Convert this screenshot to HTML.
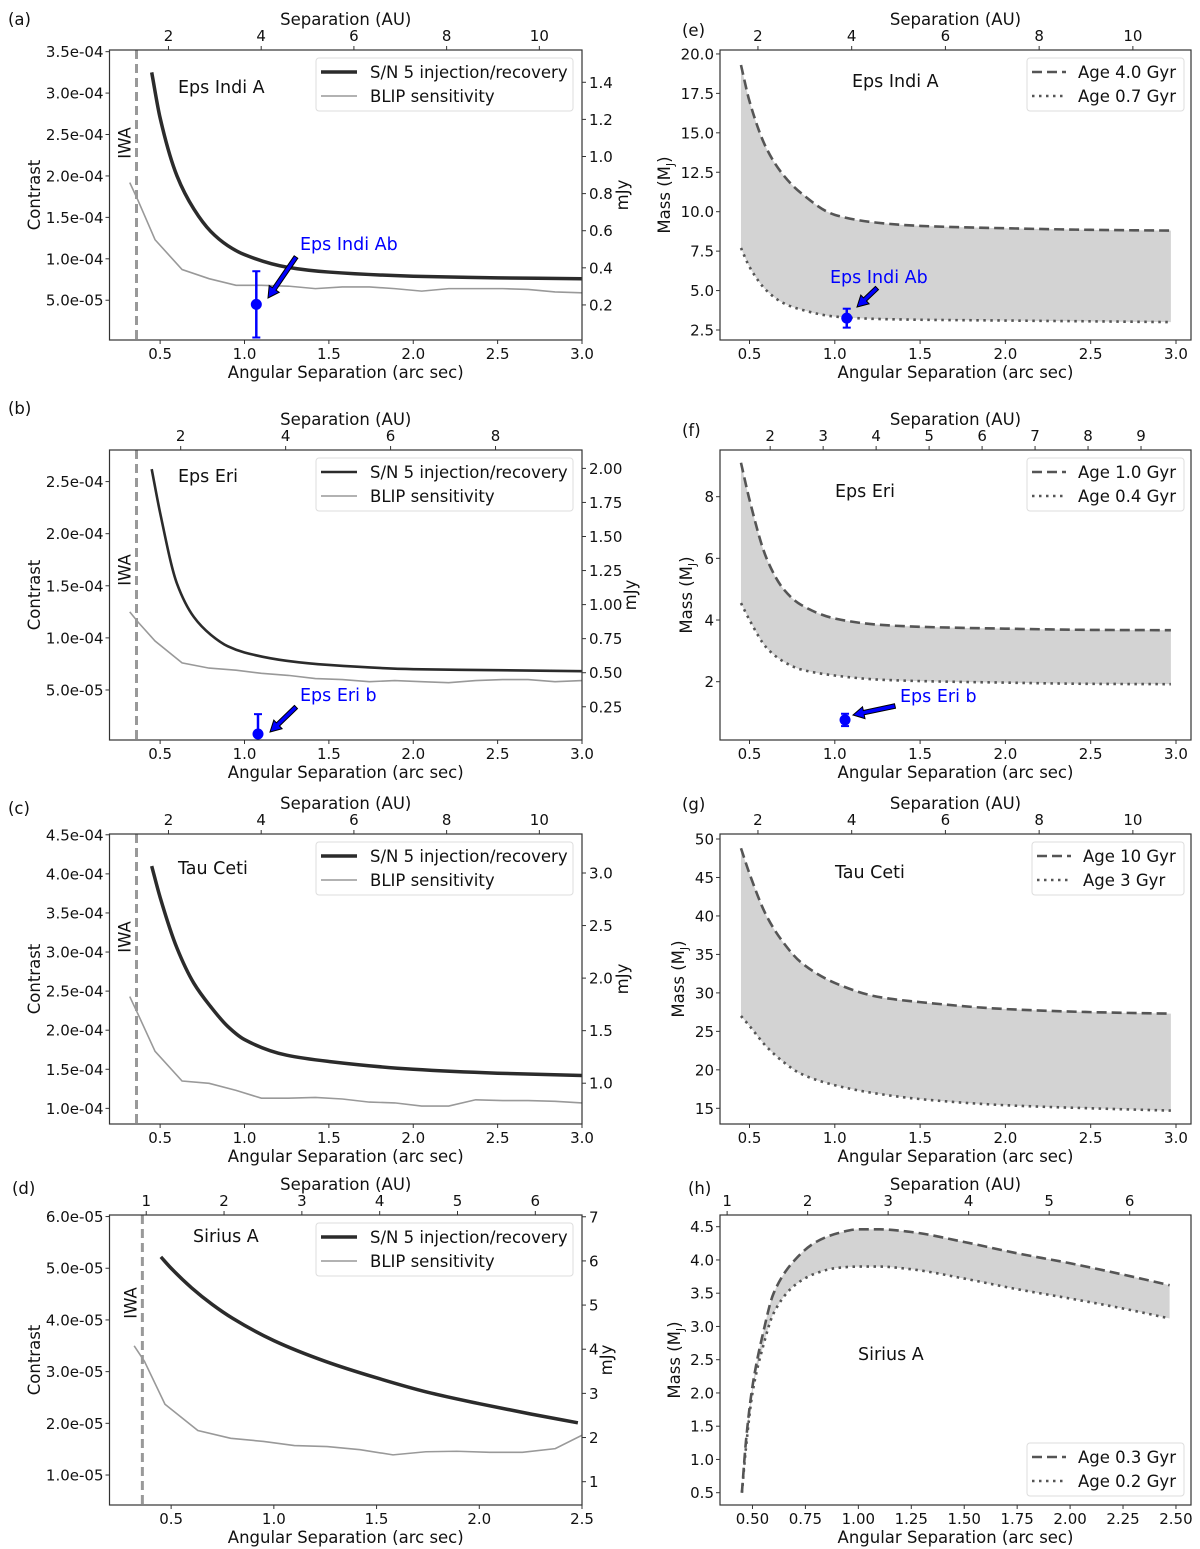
<!DOCTYPE html>
<html><head><meta charset="utf-8">
<style>
html,body{margin:0;padding:0;background:#fff;}
svg{display:block;font-family:"DejaVu Sans","Liberation Sans",sans-serif;}
</style></head>
<body>
<svg id="fig" width="1200" height="1549" viewBox="0 0 1200 1549" xmlns="http://www.w3.org/2000/svg"></svg>
<script>
// ---------- DATA ----------
const snX_a=[0.45,0.5,0.6,0.7,0.8,0.9,1.0,1.25,1.5,2.0,2.5,3.0];
const snY_a=[3.25e-4,2.7e-4,2.0e-4,1.6e-4,1.33e-4,1.16e-4,1.05e-4,9.0e-5,8.4e-5,7.9e-5,7.7e-5,7.6e-5];
const blipX=[0.32,0.37,0.47,0.63,0.79,0.95,1.1,1.26,1.42,1.58,1.74,1.89,2.05,2.21,2.37,2.53,2.68,2.84,3.0];
const blipY_a=[1.92e-4,1.7e-4,1.23e-4,8.7e-5,7.6e-5,6.8e-5,6.8e-5,6.7e-5,6.4e-5,6.6e-5,6.6e-5,6.4e-5,6.1e-5,6.4e-5,6.4e-5,6.4e-5,6.3e-5,6.0e-5,5.9e-5];
const snX_b=[0.45,0.5,0.6,0.7,0.8,0.9,1.0,1.25,1.5,2.0,2.5,3.0];
const snY_b=[2.62e-4,2.2e-4,1.52e-4,1.2e-4,1.03e-4,9.2e-5,8.6e-5,7.8e-5,7.4e-5,7.0e-5,6.9e-5,6.8e-5];
const blipY_b=[1.25e-4,1.15e-4,9.7e-5,7.6e-5,7.1e-5,6.9e-5,6.6e-5,6.4e-5,6.1e-5,6.0e-5,5.8e-5,5.9e-5,5.8e-5,5.7e-5,5.9e-5,6.0e-5,6.0e-5,5.8e-5,5.9e-5];
const snX_c=[0.45,0.5,0.6,0.7,0.8,0.9,1.0,1.25,1.5,2.0,2.5,3.0];
const snY_c=[4.1e-4,3.7e-4,3.05e-4,2.6e-4,2.3e-4,2.05e-4,1.88e-4,1.68e-4,1.6e-4,1.5e-4,1.45e-4,1.42e-4];
const blipY_c=[2.43e-4,2.2e-4,1.73e-4,1.35e-4,1.32e-4,1.23e-4,1.13e-4,1.13e-4,1.14e-4,1.12e-4,1.08e-4,1.07e-4,1.03e-4,1.03e-4,1.11e-4,1.10e-4,1.10e-4,1.09e-4,1.07e-4];
const snX_d=[0.45,0.5,0.6,0.7,0.8,1.0,1.25,1.5,1.75,2.0,2.25,2.48];
const snY_d=[5.22e-5,5.0e-5,4.62e-5,4.3e-5,4.03e-5,3.6e-5,3.2e-5,2.88e-5,2.6e-5,2.38e-5,2.18e-5,2.01e-5];
const blipX_d=[0.32,0.37,0.47,0.63,0.79,0.95,1.1,1.26,1.42,1.58,1.74,1.89,2.05,2.21,2.37,2.5];
const blipY_d=[3.5e-5,3.2e-5,2.37e-5,1.86e-5,1.71e-5,1.65e-5,1.57e-5,1.55e-5,1.49e-5,1.39e-5,1.45e-5,1.46e-5,1.44e-5,1.44e-5,1.51e-5,1.77e-5];
const massX=[0.45,0.5,0.6,0.7,0.8,1.0,1.25,1.5,2.0,2.5,2.97];
const hiY_e=[19.3,17,14,12.3,11.2,9.8,9.3,9.1,8.95,8.85,8.8];
const loY_e=[7.7,6.5,5.0,4.2,3.8,3.35,3.2,3.15,3.1,3.05,3.0];
const hiY_f=[9.1,7.9,6.0,5.0,4.5,4.05,3.85,3.78,3.72,3.68,3.67];
const loY_f=[4.55,4.0,3.1,2.65,2.4,2.2,2.07,2.02,1.97,1.93,1.92];
const hiY_g=[48.8,45.5,40,36.5,34,31.3,29.5,28.8,27.9,27.5,27.3];
const loY_g=[27,25.7,23,21,19.5,18,16.9,16.2,15.4,15.0,14.7];
const massX_h=[0.45,0.47,0.5,0.55,0.6,0.7,0.8,0.9,1.0,1.1,1.25,1.5,1.75,2.0,2.25,2.47];
const hiY_h=[0.5,1.3,2.1,2.9,3.5,4.0,4.27,4.4,4.46,4.46,4.42,4.27,4.1,3.95,3.78,3.62];
const loY_h=[0.5,1.2,2.0,2.7,3.2,3.62,3.8,3.88,3.9,3.9,3.86,3.72,3.56,3.42,3.27,3.12];
const planetA={x:1.07,y:4.5e-5,err:4.0e-5};
const planetB={x:1.08,y:7.8e-6,err:1.9e-5};
const planetE={x:1.07,y:3.25,err:0.6};
const planetF={x:1.06,y:0.76,err:0.2};
const xTicks3=[0.5,1.0,1.5,2.0,2.5,3.0];
const xTickLabels3=["0.5","1.0","1.5","2.0","2.5","3.0"];
const xTicksD=[0.5,1.0,1.5,2.0,2.5];
const xTickLabelsD=["0.5","1.0","1.5","2.0","2.5"];
const xTicksH=[0.5,0.75,1.0,1.25,1.5,1.75,2.0,2.25,2.5];
const xTickLabelsH=["0.50","0.75","1.00","1.25","1.50","1.75","2.00","2.25","2.50"];
const yTicks_a=[5e-5,1e-4,1.5e-4,2e-4,2.5e-4,3e-4,3.5e-4];
const yTickLabels_a=["5.0e-05","1.0e-04","1.5e-04","2.0e-04","2.5e-04","3.0e-04","3.5e-04"];
const yTicks_b=[5e-5,1e-4,1.5e-4,2e-4,2.5e-4];
const yTickLabels_b=["5.0e-05","1.0e-04","1.5e-04","2.0e-04","2.5e-04"];
const yTicks_c=[1e-4,1.5e-4,2e-4,2.5e-4,3e-4,3.5e-4,4e-4,4.5e-4];
const yTickLabels_c=["1.0e-04","1.5e-04","2.0e-04","2.5e-04","3.0e-04","3.5e-04","4.0e-04","4.5e-04"];
const yTicks_d=[1e-5,2e-5,3e-5,4e-5,5e-5,6e-5];
const yTickLabels_d=["1.0e-05","2.0e-05","3.0e-05","4.0e-05","5.0e-05","6.0e-05"];
const rTicks_a=[0.2,0.4,0.6,0.8,1.0,1.2,1.4];
const rTickLabels_a=["0.2","0.4","0.6","0.8","1.0","1.2","1.4"];
const rTicks_b=[0.25,0.5,0.75,1.0,1.25,1.5,1.75,2.0];
const rTickLabels_b=["0.25","0.50","0.75","1.00","1.25","1.50","1.75","2.00"];
const rTicks_c=[1.0,1.5,2.0,2.5,3.0];
const rTickLabels_c=["1.0","1.5","2.0","2.5","3.0"];
const rTicks_d=[1,2,3,4,5,6,7];
const rTickLabels_d=["1","2","3","4","5","6","7"];
const mTicks_e=[2.5,5,7.5,10,12.5,15,17.5,20];
const mTickLabels_e=["2.5","5.0","7.5","10.0","12.5","15.0","17.5","20.0"];
const mTicks_f=[2,4,6,8];
const mTickLabels_f=["2","4","6","8"];
const mTicks_g=[15,20,25,30,35,40,45,50];
const mTickLabels_g=["15","20","25","30","35","40","45","50"];
const mTicks_h=[0.5,1.0,1.5,2.0,2.5,3.0,3.5,4.0,4.5];
const mTickLabels_h=["0.5","1.0","1.5","2.0","2.5","3.0","3.5","4.0","4.5"];
const auTicks10=[2,4,6,8,10];
const auTicks8=[2,4,6,8];
const auTicks9=[2,3,4,5,6,7,8,9];
const auTicks6=[1,2,3,4,5,6];

// ---------- DRAWING ----------
const NS="http://www.w3.org/2000/svg";
const svg=document.getElementById('fig');
const FS=16.5;
function mk(tag,attrs,parent,text){const e=document.createElementNS(NS,tag);for(const k in attrs)e.setAttribute(k,attrs[k]);if(text!==undefined)e.textContent=text;(parent||svg).appendChild(e);return e;}
function monoSegs(pts){
  const n=pts.length,d=[],m=new Array(n);
  for(let i=0;i<n-1;i++)d.push((pts[i+1][1]-pts[i][1])/(pts[i+1][0]-pts[i][0]));
  m[0]=d[0];m[n-1]=d[n-2];
  for(let i=1;i<n-1;i++){if(d[i-1]*d[i]<=0)m[i]=0;else{const h0=pts[i][0]-pts[i-1][0],h1=pts[i+1][0]-pts[i][0];const w1=2*h1+h0,w2=h1+2*h0;m[i]=(w1+w2)/(w1/d[i-1]+w2/d[i]);}}
  let s="";
  for(let i=0;i<n-1;i++){const h=pts[i+1][0]-pts[i][0];
    s+=" C"+(pts[i][0]+h/3).toFixed(2)+","+(pts[i][1]+m[i]*h/3).toFixed(2)+" "+(pts[i+1][0]-h/3).toFixed(2)+","+(pts[i+1][1]-m[i+1]*h/3).toFixed(2)+" "+pts[i+1][0].toFixed(2)+","+pts[i+1][1].toFixed(2);}
  return s;
}
function smoothPath(pts){return "M"+pts[0][0].toFixed(2)+","+pts[0][1].toFixed(2)+monoSegs(pts);}
function linePath(pts){return "M"+pts.map(p=>p[0].toFixed(2)+","+p[1].toFixed(2)).join(" L");}

function panel(c){
  const g=mk('g',{});
  
  
  const sx=v=>c.L+(v-c.xd[0])/(c.xd[1]-c.xd[0])*(c.R-c.L);
  const sy=v=>c.B-(v-c.yd[0])/(c.yd[1]-c.yd[0])*(c.B-c.T);
  c.sx=sx;c.sy=sy;
  const clipId='clip-'+c.name;
  const cp=mk('clipPath',{id:clipId},g);mk('rect',{x:c.L,y:c.T,width:c.R-c.L,height:c.B-c.T},cp);
  const plot=mk('g',{'clip-path':'url(#'+clipId+')'},g);
  c.plot=plot;
  c.xt.forEach((v,i)=>{const x=sx(v);mk('line',{x1:x,x2:x,y1:c.B,y2:c.B+4,stroke:'#333','stroke-width':1},g);
    const t=mk('text',{x:x,y:c.B+19,'font-size':15,'text-anchor':'middle',fill:'#111'},g,c.xtl[i]);
    
    });
  c.yt.forEach((v,i)=>{const y=sy(v);mk('line',{x1:c.L-4,x2:c.L,y1:y,y2:y,stroke:'#333','stroke-width':1},g);
    const t=mk('text',{x:c.L-6,y:y+5.5,'font-size':15,'text-anchor':'end',fill:'#111'},g,c.ytl[i]);
    
    });
  c.au.forEach(v=>{const x=sx(v/c.auf);mk('line',{x1:x,x2:x,y1:c.T-4,y2:c.T,stroke:'#333','stroke-width':1},g);
    const t=mk('text',{x:x,y:c.T-9,'font-size':15,'text-anchor':'middle',fill:'#111'},g,String(v));
    
    });
  if(c.rt){const ry=v=>c.B-(v-c.rd[0])/(c.rd[1]-c.rd[0])*(c.B-c.T);
    c.rt.forEach((v,i)=>{const y=ry(v);mk('line',{x1:c.R,x2:c.R+4,y1:y,y2:y,stroke:'#333','stroke-width':1},g);
      const t=mk('text',{x:c.R+7,y:y+5.5,'font-size':15,'text-anchor':'start',fill:'#111'},g,c.rtl[i]);
      
      });
    const rl=mk('text',{x:0,y:0,'font-size':FS,'text-anchor':'middle',fill:'#111',transform:'translate('+c.rlx+','+((c.T+c.B)/2)+') rotate(-90)'},g,'mJy');
    
    
  }
  const xl=mk('text',{x:(c.L+c.R)/2,y:c.B+38,'font-size':FS,'text-anchor':'middle',fill:'#111'},g,'Angular Separation (arc sec)');
  
  
  const tl=mk('text',{x:(c.L+c.R)/2,y:c.T-25,'font-size':FS,'text-anchor':'middle',fill:'#111'},g,'Separation (AU)');
  
  
  const yl=mk('text',{x:0,y:0,'font-size':FS,'text-anchor':'middle',fill:'#111',transform:'translate('+c.ylx+','+((c.T+c.B)/2)+') rotate(-90)'},g);
  if(c.mass){yl.textContent='Mass (M';mk('tspan',{'font-size':11,dy:4},yl,'J');mk('tspan',{dy:-4},yl,')');}
  else yl.textContent='Contrast';
  
  
  const pl=mk('text',{x:c.plx,y:c.ply,'font-size':FS,fill:'#111'},g,c.label);
  
  
  const st=mk('text',{x:c.starX,y:c.starY,'font-size':17.5,fill:'#111'},g,c.star);
  
  
  c.g=g;
  return c;
}
function frame(c){const r=mk('rect',{x:c.L,y:c.T,width:c.R-c.L,height:c.B-c.T,fill:'none',stroke:'#333','stroke-width':1.2},c.g);
  
  }
function contrastSeries(c,sxs,sys,bx,by,snW){
  const iwa=mk('line',{x1:c.sx(0.36),x2:c.sx(0.36),y1:c.T,y2:c.B,stroke:'#999','stroke-width':3,'stroke-dasharray':'9,5'},c.plot);
  
  
  const bl=mk('path',{d:linePath(bx.map((x,i)=>[c.sx(x),c.sy(by[i])])),fill:'none',stroke:'#999','stroke-width':1.6},c.plot);
  
  
  const sn=mk('path',{d:smoothPath(sxs.map((x,i)=>[c.sx(x),c.sy(sys[i])])),fill:'none',stroke:'#2b2b2b','stroke-width':snW},c.plot);
  
  
  const iw=mk('text',{x:0,y:0,'font-size':FS,'text-anchor':'middle',fill:'#111',transform:'translate('+(c.sx(0.36)-6)+','+c.iwaY+') rotate(-90)'},c.g,'IWA');
  
  
  const lg=mk('g',{},c.g);
  
  
  mk('rect',{x:316,y:c.T+8,width:257,height:53,rx:3,fill:'#fff',stroke:'#ddd','stroke-width':1},lg);
  mk('line',{x1:321,x2:357,y1:c.T+22,y2:c.T+22,stroke:'#2b2b2b','stroke-width':snW},lg);
  mk('text',{x:370,y:c.T+28,'font-size':FS,fill:'#111'},lg,'S/N 5 injection/recovery');
  mk('line',{x1:321,x2:357,y1:c.T+46,y2:c.T+46,stroke:'#999','stroke-width':1.6},lg);
  mk('text',{x:370,y:c.T+52,'font-size':FS,fill:'#111'},lg,'BLIP sensitivity');
}
function massSeries(c,xs,hi,lo,hiAge,loAge,legTop){
  const pts=xs.map((x,i)=>[c.sx(x),c.sy(hi[i])]);
  const ptsL=xs.map((x,i)=>[c.sx(x),c.sy(lo[i])]);
  const rev=ptsL.slice().reverse();
  const d=smoothPath(pts)+" L"+rev[0][0].toFixed(2)+","+rev[0][1].toFixed(2)+monoSegs(rev)+" Z";
  const f=mk('path',{d:d,fill:'#d3d3d3',stroke:'none'},c.plot);
  
  
  const h=mk('path',{d:smoothPath(pts),fill:'none',stroke:'#555','stroke-width':2.6,'stroke-dasharray':'10,5'},c.plot);
  
  
  const l=mk('path',{d:smoothPath(ptsL),fill:'none',stroke:'#555','stroke-width':2.6,'stroke-dasharray':'2.5,4.5'},c.plot);
  
  
  const lg=mk('g',{},c.g);
  
  
  const lx=c.legX;
  mk('rect',{x:lx,y:legTop,width:1184-lx,height:53,rx:3,fill:'#fff',stroke:'#ddd','stroke-width':1},lg);
  mk('line',{x1:lx+5,x2:lx+39,y1:legTop+14,y2:legTop+14,stroke:'#555','stroke-width':2.6,'stroke-dasharray':'10,5'},lg);
  mk('text',{x:lx+51,y:legTop+20,'font-size':FS,fill:'#111'},lg,hiAge);
  mk('line',{x1:lx+5,x2:lx+39,y1:legTop+38,y2:legTop+38,stroke:'#555','stroke-width':2.6,'stroke-dasharray':'2.5,4.5'},lg);
  mk('text',{x:lx+51,y:legTop+44,'font-size':FS,fill:'#111'},lg,loAge);
}
function planet(c,p,name,tx,ty,ax1,ay1,ax2,ay2){
  const x=c.sx(p.x),y=c.sy(p.y),y1=c.sy(p.y+p.err),y2=c.sy(p.y-p.err);
  const g=mk('g',{},c.plot);
  
  
  mk('line',{x1:x,x2:x,y1:y1,y2:y2,stroke:'#0000ff','stroke-width':2.5},g);
  mk('line',{x1:x-4,x2:x+4,y1:y1,y2:y1,stroke:'#0000ff','stroke-width':2},g);
  mk('line',{x1:x-4,x2:x+4,y1:y2,y2:y2,stroke:'#0000ff','stroke-width':2},g);
  mk('circle',{cx:x,cy:y,r:5.5,fill:'#0000ff'},g);
  const t=mk('text',{x:tx,y:ty,'font-size':17.5,fill:'#0000ff'},c.g,name);
  
  
  const dx=ax2-ax1,dy=ay2-ay1,len=Math.hypot(dx,dy),ux=dx/len,uy=dy/len,nx=-uy,ny=ux;
  const hl=11,hw=6,sw=2.2;const bx=ax2-ux*hl,by=ay2-uy*hl;
  const P=[[ax1+nx*sw,ay1+ny*sw],[bx+nx*sw,by+ny*sw],[bx+nx*hw,by+ny*hw],[ax2,ay2],[bx-nx*hw,by-ny*hw],[bx-nx*sw,by-ny*sw],[ax1-nx*sw,ay1-ny*sw]];
  const a=mk('polygon',{points:P.map(q=>q[0].toFixed(1)+','+q[1].toFixed(1)).join(' '),fill:'#0000ff',stroke:'#000','stroke-width':1},c.g);
  
  
}

const LL=109.5,LR=582,RL=720,RR=1191;
const pa=panel({name:'panel-a',L:LL,R:LR,T:50,B:340,xd:[0.2,3.0],yd:[2e-6,3.52e-4],xt:xTicks3,xtl:xTickLabels3,yt:yTicks_a,ytl:yTickLabels_a,au:auTicks10,auf:3.64,rt:rTicks_a,rtl:rTickLabels_a,rd:[0.011,1.574],rlx:628,ylx:40,label:'(a)',plx:8,ply:25,star:'Eps Indi A',starX:178,starY:93});
pa.iwaY=143;contrastSeries(pa,snX_a,snY_a,blipX,blipY_a,3.5);
planet(pa,planetA,'Eps Indi Ab',300,250,296,257,268,298);frame(pa);
const pb=panel({name:'panel-b',L:LL,R:LR,T:450,B:740,xd:[0.2,3.0],yd:[2e-6,2.803e-4],xt:xTicks3,xtl:xTickLabels3,yt:yTicks_b,ytl:yTickLabels_b,au:auTicks8,auf:3.216,rt:rTicks_b,rtl:rTickLabels_b,rd:[0.006,2.135],rlx:636,ylx:40,label:'(b)',plx:8,ply:414,star:'Eps Eri',starX:178,starY:482});
pb.iwaY=570;contrastSeries(pb,snX_b,snY_b,blipX,blipY_b,2.6);
planet(pb,planetB,'Eps Eri b',300,701,296,707,270,732);frame(pb);
const pc=panel({name:'panel-c',L:LL,R:LR,T:834,B:1124,xd:[0.2,3.0],yd:[8.0e-5,4.51e-4],xt:xTicks3,xtl:xTickLabels3,yt:yTicks_c,ytl:yTickLabels_c,au:auTicks10,auf:3.64,rt:rTicks_c,rtl:rTickLabels_c,rd:[0.612,3.371],rlx:628,ylx:40,label:'(c)',plx:8,ply:814,star:'Tau Ceti',starX:178,starY:874});
pc.iwaY=937;contrastSeries(pc,snX_c,snY_c,blipX,blipY_c,3.5);frame(pc);
const pd=panel({name:'panel-d',L:LL,R:LR,T:1215,B:1505,xd:[0.2,2.5],yd:[0.42e-5,6.03e-5],xt:xTicksD,xtl:xTickLabelsD,yt:yTicks_d,ytl:yTickLabels_d,au:auTicks6,auf:2.64,rt:rTicks_d,rtl:rTickLabels_d,rd:[0.472,7.04],rlx:612,ylx:40,label:'(d)',plx:12,ply:1194,star:'Sirius A',starX:193,starY:1242});
pd.iwaY=1303;contrastSeries(pd,snX_d,snY_d,blipX_d,blipY_d,3.5);frame(pd);
const pe=panel({name:'panel-e',L:RL,R:RR,T:50,B:340,xd:[0.327,3.088],yd:[1.866,20.25],xt:xTicks3,xtl:xTickLabels3,yt:mTicks_e,ytl:mTickLabels_e,au:auTicks10,auf:3.64,mass:true,ylx:670,label:'(e)',plx:682,ply:36,star:'Eps Indi A',starX:852,starY:87,legX:1027});
massSeries(pe,massX,hiY_e,loY_e,'Age 4.0 Gyr','Age 0.7 Gyr',58);
planet(pe,planetE,'Eps Indi Ab',830,283,877,288,857,307);frame(pe);
const pf=panel({name:'panel-f',L:RL,R:RR,T:450,B:740,xd:[0.327,3.088],yd:[0.109,9.514],xt:xTicks3,xtl:xTickLabels3,yt:mTicks_f,ytl:mTickLabels_f,au:auTicks9,auf:3.22,mass:true,ylx:692,label:'(f)',plx:682,ply:436,star:'Eps Eri',starX:835,starY:497,legX:1027});
massSeries(pf,massX,hiY_f,loY_f,'Age 1.0 Gyr','Age 0.4 Gyr',458);
planet(pf,planetF,'Eps Eri b',900,702,895,706,853,715);frame(pf);
const pg=panel({name:'panel-g',L:RL,R:RR,T:834,B:1124,xd:[0.327,3.088],yd:[12.96,50.65],xt:xTicks3,xtl:xTickLabels3,yt:mTicks_g,ytl:mTickLabels_g,au:auTicks10,auf:3.64,mass:true,ylx:684,label:'(g)',plx:682,ply:810,star:'Tau Ceti',starX:835,starY:878,legX:1032});
massSeries(pg,massX,hiY_g,loY_g,'Age 10 Gyr','Age 3 Gyr',842);frame(pg);
const ph=panel({name:'panel-h',L:RL,R:RR,T:1215,B:1505,xd:[0.3466,2.571],yd:[0.315,4.676],xt:xTicksH,xtl:xTickLabelsH,yt:mTicks_h,ytl:mTickLabels_h,au:auTicks6,auf:2.63,mass:true,ylx:680,label:'(h)',plx:688,ply:1194,star:'Sirius A',starX:858,starY:1360,legX:1027});
massSeries(ph,massX_h,hiY_h,loY_h,'Age 0.3 Gyr','Age 0.2 Gyr',1443);frame(ph);
</script>
</body></html>
